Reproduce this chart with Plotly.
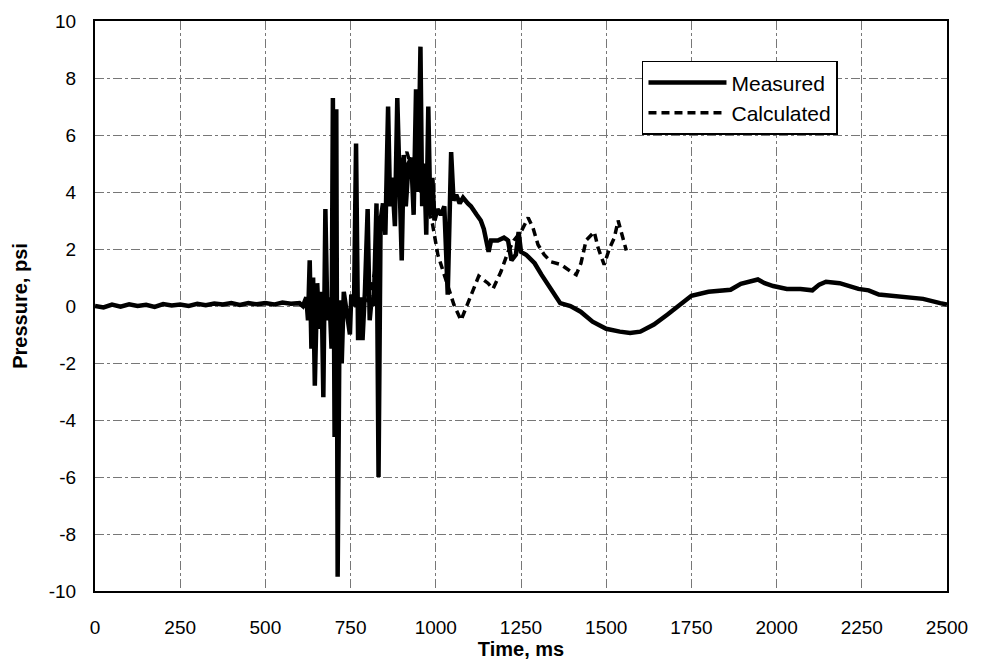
import plotly.graph_objects as go

# Measured pressure (ms, psi)
meas_t = [0, 25, 50, 75, 100, 125, 150, 175, 200, 225, 250, 275, 300, 325, 350, 375, 400, 425, 450, 475,
          500, 525, 550, 575, 600, 610, 620, 625, 630, 635, 640, 645, 652, 658, 665, 670, 676, 682, 688, 694,
          698, 703, 708, 712, 718, 724, 730, 740, 748, 752, 760, 766, 772, 778, 785, 792, 800, 806, 812, 818,
          826, 832, 838, 845, 852, 860, 866, 872, 880, 887, 893, 900, 906, 912, 920, 928, 935, 942, 948, 955,
          960, 966, 972, 978, 984, 990, 996, 1005, 1015, 1025, 1035, 1040, 1045, 1052, 1060, 1070, 1080, 1094,
          1103, 1120, 1132, 1141, 1155, 1162, 1182, 1200, 1212, 1222, 1235, 1243, 1250, 1265, 1290, 1310, 1330,
          1350, 1365, 1395, 1425, 1460, 1500, 1540, 1570, 1600, 1640, 1680, 1710, 1750, 1800, 1830, 1865, 1895,
          1945, 1965, 1990, 2030, 2070, 2105, 2125, 2145, 2185, 2240, 2270, 2300, 2340, 2380, 2430, 2480, 2500]
meas_p = [0.0, -0.05, 0.05, -0.02, 0.06, 0.0, 0.04, -0.03, 0.07, 0.02, 0.05, 0.0, 0.08, 0.03, 0.09, 0.05, 0.1, 0.04, 0.1, 0.06,
          0.1, 0.05, 0.12, 0.08, 0.1, 0.0, 0.3, -0.5, 1.6, -1.5, 1.0, -2.8, 0.8, -0.8, 0.5, -3.2, 3.4, -0.5, 0.3, -1.5,
          7.3, -4.6, 6.9, -9.5, 0.2, -2.0, 0.5, -0.3, -1.0, 0.4, 0.0, 5.7, -1.2, 0.3, -1.2, 0.5, 3.4, -0.5, 0.3, 0.0,
          3.6, -6.0, 3.0, 3.6, 2.5, 7.0, 3.5, 4.5, 2.8, 7.3, 4.0, 1.6, 5.3, 3.5, 5.0, 5.2, 3.2, 7.6, 4.0, 9.1,
          3.5, 5.0, 2.5, 7.0, 3.2, 4.5, 3.0, 3.4, 3.2, 3.5, 0.4, 3.0, 5.4, 3.7, 3.9, 3.6, 3.8, 3.6,
          3.5, 3.2, 3.0, 2.7, 1.9, 2.3, 2.3, 2.4, 2.3, 1.6, 1.8, 2.6, 1.9, 1.8, 1.5, 1.1, 0.75,
          0.4, 0.1, 0.0, -0.2, -0.55, -0.8, -0.9, -0.95, -0.9, -0.65, -0.3, 0.0, 0.36, 0.5, 0.55, 0.57, 0.78,
          0.93, 0.8, 0.7, 0.6, 0.6, 0.55, 0.75, 0.85, 0.8, 0.6, 0.55, 0.4, 0.35, 0.3, 0.25, 0.1, 0.05]

# Calculated pressure (ms, psi)
calc_t = [760, 790, 806, 820, 835, 850, 864, 885, 900, 915, 925, 945, 960, 975, 990, 1006, 1024, 1053, 1074,
          1094, 1112, 1126, 1153, 1168, 1191, 1212, 1229, 1250, 1271, 1285, 1300, 1318, 1338, 1368, 1397, 1412,
          1426, 1441, 1465, 1476, 1494, 1509, 1524, 1535, 1544, 1559]
calc_p = [0.0, 0.1, 0.3, 1.15, 2.5, 3.4, 4.1, 4.5, 5.1, 5.4, 5.0, 4.8, 4.3, 3.5, 2.9, 1.8, 1.1, 0.05, -0.5,
          0.1, 0.7, 1.05, 0.8, 0.6, 1.2, 1.9, 2.3, 2.6, 3.1, 2.75, 2.15, 1.8, 1.55, 1.45, 1.2, 1.1,
          1.5, 2.3, 2.6, 2.05, 1.45, 2.0, 2.4, 3.0, 2.6, 1.95]

x_ticks = [0, 250, 500, 750, 1000, 1250, 1500, 1750, 2000, 2250, 2500]
y_ticks = [-10, -8, -6, -4, -2, 0, 2, 4, 6, 8, 10]

fig = go.Figure()
fig.add_trace(go.Scatter(x=meas_t, y=meas_p, mode="lines", name="Measured",
                         line=dict(color="black", width=4.5)))
fig.add_trace(go.Scatter(x=calc_t, y=calc_p, mode="lines", name="Calculated",
                         line=dict(color="black", width=3.5, dash="8px,5px")))

font_family = "Liberation Sans, Arial, sans-serif"
fig.update_layout(
    width=986, height=664,
    margin=dict(l=87, r=47, t=13, b=81),
    paper_bgcolor="white", plot_bgcolor="white",
    font=dict(family=font_family, size=19, color="black"),
    showlegend=True,
    legend=dict(x=0.642, y=0.93, xanchor="left", yanchor="top",
                bgcolor="white", bordercolor="black", borderwidth=1.5,
                font=dict(size=21), itemwidth=78, tracegroupgap=0),
    xaxis=dict(range=[0, 2500], tickvals=x_ticks, ticktext=[str(v) for v in x_ticks],
               showgrid=True, gridcolor="#777777", griddash="dashdot", gridwidth=1,
               showline=True, linecolor="black", linewidth=2, mirror=True,
               zeroline=False, ticks="", ticklabelstandoff=18, automargin=False,
               ticklabeloverflow="allow", tickfont=dict(size=19),
               title=dict(text="<b>Time, ms</b>", font=dict(size=20), standoff=4)),
    yaxis=dict(range=[-10, 10], tickvals=y_ticks, ticktext=[str(v) for v in y_ticks],
               showgrid=True, gridcolor="#777777", griddash="dashdot", gridwidth=1,
               showline=True, linecolor="black", linewidth=2, mirror=True,
               zeroline=False, ticks="", ticklabelstandoff=13, automargin=False,
               ticklabeloverflow="allow", tickfont=dict(size=19),
               title=dict(text="<b>Pressure, psi</b>", font=dict(size=20), standoff=16)),
)

fig.write_html("out.html")
